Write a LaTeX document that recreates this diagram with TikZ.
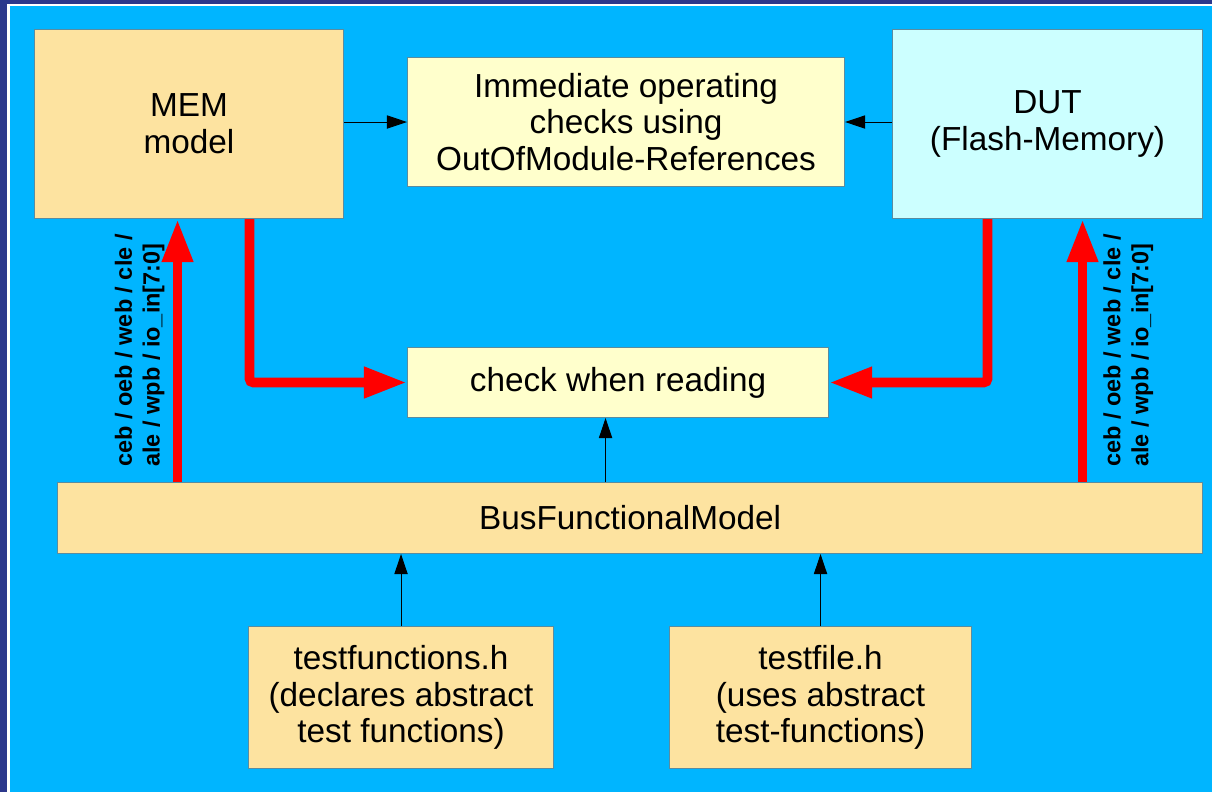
\documentclass[tikz,border=0pt]{standalone}
\usepackage{fontspec}
\setmainfont{Liberation Sans}
\usetikzlibrary{arrows.meta,positioning,calc}

\definecolor{sky}{RGB}{0,181,255}
\definecolor{navy}{RGB}{44,56,140}
\definecolor{sand}{RGB}{253,227,160}
\definecolor{cream}{RGB}{255,255,204}
\definecolor{ice}{RGB}{204,255,255}
\definecolor{rim}{RGB}{90,140,160}

\begin{document}
\begin{tikzpicture}
    [x=0.025cm, y=-0.025cm, font=\fontsize{23.7}{26.2}\selectfont,
    % STYLES
    % The block style is used for every box of the diagram
    block/.style={rectangle, draw=rim, line width=0.7pt, inner sep=0pt, anchor=north west, align=center},
    % The wire style is used for the thin black arrows
    wire/.style={-{Triangle[length=0.5cm, width=0.33cm]}, line width=0.7pt, black},
    % The bus style is used for the thick red arrows
    bus/.style={-{Triangle[length=1.075cm, width=0.725cm]}, line width=7pt, draw=red, rounded corners=0.1cm},
    % The pins style is used for the signal names next to the red arrows
    pins/.style={font=\fontsize{16.7}{19.8}\selectfont\bfseries, align=left, inner sep=0pt, text=black}]

    % Background and frame
    \useasboundingbox (0,0) rectangle (1212,792);
    \fill[navy] (0,0) rectangle (1212,792);
    \fill[white] (7,3.5) rectangle (1212,792);
    \fill[sky] (9.5,5.5) rectangle (1212,792);

    % Draw blocks
    \node [block, fill=sand, minimum width=7.725cm, minimum height=4.725cm] (a) at (34,29) {MEM\\model};
    \node [block, fill=cream, minimum width=10.925cm, minimum height=3.225cm] (b) at (407,57) {Immediate operating\\checks using\\OutOfModule-References};
    \node [block, fill=ice, minimum width=7.75cm, minimum height=4.725cm] (c) at (892,29) {DUT\\(Flash-Memory)};
    \node [block, fill=cream, minimum width=10.525cm, minimum height=1.75cm] (d) at (407,347) {check when reading};
    \node [block, fill=sand, minimum width=28.625cm, minimum height=1.775cm] (e) at (57,482) {BusFunctionalModel};
    \node [block, fill=sand, minimum width=7.625cm, minimum height=3.55cm] (f) at (248,626) {testfunctions.h\\(declares abstract\\test functions)};
    \node [block, fill=sand, minimum width=7.55cm, minimum height=3.55cm] (g) at (669,626) {testfile.h\\(uses abstract\\test-functions)};

    % Arrow positions
    \coordinate (a1) at ($(a.south)+(-11.5,0)$);
    \coordinate (a2) at ($(a.south)+(60.5,0)$);
    \coordinate (c1) at ($(c.south)+(-60,0)$);
    \coordinate (c2) at ($(c.south)+(35,0)$);
    \coordinate (d1) at ($(d.south)+(-12.5,0)$);

    \path[wire]
    (a.east |- b.west) edge (b.west)
    (c.west |- b.east) edge (b.east)
    (d1 |- e.north) edge (d1)
    (f.north) edge (f.north |- e.south)
    (g.north) edge (g.north |- e.south);

    \draw[bus] (a1 |- e.north) -- node[pins, sloped, above=0.2cm] {ceb / oeb / web / cle /\\ale / wpb / io\_in[7:0]} (a1);
    \draw[bus] (c2 |- e.north) -- node[pins, sloped, below=0.4cm] {ceb / oeb / web / cle /\\ale / wpb / io\_in[7:0]} (c2);
    \draw[bus] (a2) |- (d.west);
    \draw[bus] (c1) |- (d.east);
\end{tikzpicture}
\end{document}
